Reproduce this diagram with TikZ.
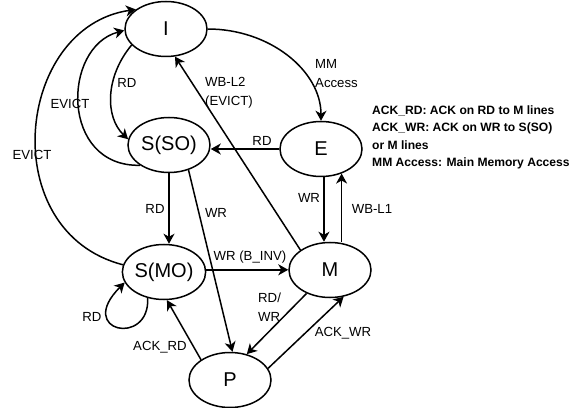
\documentclass[tikz,border=0pt]{standalone}
\usepackage{fontspec}
\setmainfont{Liberation Sans}
\usetikzlibrary{
    positioning,
    shapes.geometric,
    arrows.meta
    }

\begin{document}
\begin{tikzpicture}[x=1pt, y=1pt]
\tikzset{state/.style =
        {
            shape=ellipse,
            line width=1.5pt,
            minimum width=82pt,
            minimum height=55pt,
            inner sep=0pt,
            font=\fontsize{20}{24}\selectfont,
            draw
        }
}

\tikzset{move/.style = {
            line width=1.5pt,
            -{Stealth[length=10pt, width=11pt, inset=3pt]},
            fill=none
        }
}

\tikzset{lbl/.style = {
            inner sep=0pt,
            align=left,
            font=\fontsize{13.2}{19}\selectfont
        }
}

\tikzset{legend/.style = {
            inner sep=0pt,
            anchor=base west,
            font=\fontsize{12.1}{15}\selectfont\bfseries
        }
}

		\useasboundingbox (0,0) rectangle (572,407);

		\foreach \name / \txt / \x / \y in
			{I/I/166/378,
				SSO/S(SO)/169/262,
				E/E/321/258,
				SMO/S(MO)/164/135,
				M/M/330/137,
				P/P/230/27}
		\node[state] (\name) at (\x,\y) {\txt};

		% transitions
		\draw[move] (I.east) .. controls (270,378) and (321,336) .. (E.north);
		\draw[move] (I.-155) .. controls (105,330) and (105,290) .. (SSO.172);
		\draw[move] (SSO.-145) .. controls (60,240) and (62,360) .. (I.182);
		\draw[move] (SMO.170) .. controls (-5,175) and (15,380) .. (I.147);
		\draw[move] (E.west) -- (E.west -| SSO.east);
		\draw[move] (M.146) -- (I.-72);
		\draw[move] (E.-84) -- (E.-84 |- M.north);
		\draw[move] (E.-50 |- M.north) -- (E.-50);
		\draw[move] (SSO.south) -- (SSO.south |- SMO.north);
		\draw[move] (SSO.-52) -- (P.85);
		\draw[move] (SMO.3) -- (SMO.3 -| M.west);
		\draw[move] (SMO.-122) .. controls (150,60) and (75,75) .. (SMO.-165);
		\draw[move] (P.145) -- (SMO.-84);
		\draw[move] (M.-135) -- (P.57);
		\draw[move] (P.17) -- (M.-63);

		% labels
		\node[lbl, anchor=west] (l-mm) at (315,333) {MM\\Access};
		\node[lbl] (l-rd1) at (127,324) {RD};
		\node[lbl] (l-ev1) at (70,303) {EVICT};
		\node[lbl] (l-ev2) at (32,252) {EVICT};
		\node[lbl] (l-rd2) at (262,266) {RD};
		\node[lbl, anchor=west] (l-wb2) at (205,314) {WB-L2\\(EVICT)};
		\node[lbl] (l-wr1) at (309,209) {WR};
		\node[lbl] (l-wb1) at (372,198) {WB-L1};
		\node[lbl] (l-rd3) at (155,198) {RD};
		\node[lbl] (l-wr2) at (216,194) {WR};
		\node[lbl] (l-binv) at (250,150) {WR (B\_INV)};
		\node[lbl] (l-rd4) at (92,90) {RD};
		\node[lbl] (l-ackrd) at (160,60) {ACK\_RD};
		\node[lbl, anchor=west] (l-rdwr) at (258,100) {RD/\\WR};
		\node[lbl] (l-ackwr) at (343,74) {ACK\_WR};

		\foreach \i / \txt in
			{0/{ACK\_RD: ACK on RD to M lines},
				1/{ACK\_WR: ACK on WR to S(SO)},
				2/{or M lines},
				3/{MM Access: Main Memory Access}}
		\node[legend] (key-\i) at (372,{292.6-17.5*\i}) {\txt};

	\end{tikzpicture}
\end{document}
